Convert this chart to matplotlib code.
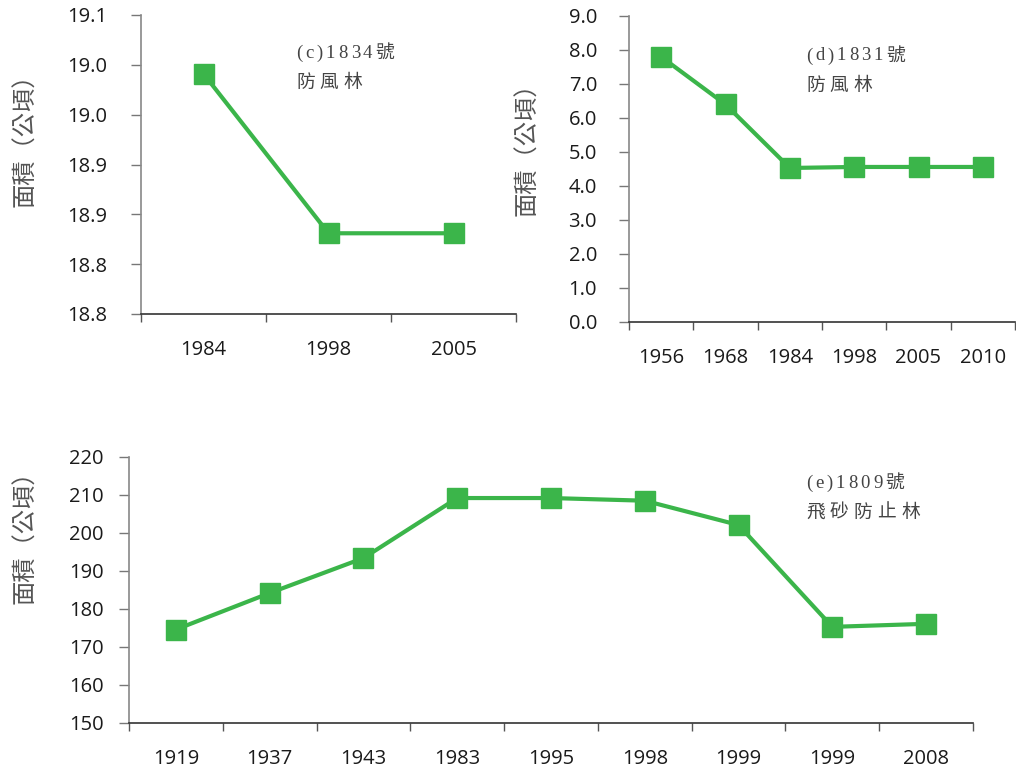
import matplotlib
matplotlib.use('Agg')
import matplotlib.pyplot as plt
from matplotlib.ticker import FixedLocator, NullFormatter

plt.rcParams['font.family'] = ['Open Sans', 'Noto Sans CJK TC', 'DejaVu Sans']

# data
c_years = ['1984', '1998', '2005']
c_area = [19.041, 18.881, 18.881]
c_ticks = [18.80, 18.85, 18.90, 18.95, 19.00, 19.05, 19.10]
c_ticklabels = ['18.8', '18.8', '18.9', '18.9', '19.0', '19.0', '19.1']

d_years = ['1956', '1968', '1984', '1998', '2005', '2010']
d_area = [7.80, 6.40, 4.53, 4.56, 4.56, 4.56]
d_ticks = [0, 1, 2, 3, 4, 5, 6, 7, 8, 9]
d_ticklabels = ['%.1f' % t for t in d_ticks]

e_years = ['1919', '1937', '1943', '1983', '1995', '1998', '1999', '1999', '2008']
e_area = [174.6, 184.2, 193.4, 209.2, 209.2, 208.5, 202.1, 175.3, 176.1]
e_ticks = [150, 160, 170, 180, 190, 200, 210, 220]
e_ticklabels = [str(t) for t in e_ticks]

W, H = 1016, 772
GREEN = '#3bb54a'
fig = plt.figure(figsize=(W / 100, H / 100), dpi=100)
renderer = fig.canvas.get_renderer()


def px_axes(left, top, right, bottom):
    return fig.add_axes([left / W, 1 - bottom / H, (right - left) / W, (bottom - top) / H])


def style(ax, cats, vals, ticks, ticklabels, ypad):
    n = len(cats)
    x = list(range(n))
    ax.plot(x, vals, color=GREEN, lw=3, marker='s', ms=14, mec=GREEN, mfc=GREEN, clip_on=False)
    ax.set_xlim(-0.5, n - 0.5)
    ax.set_ylim(ticks[0], ticks[-1])
    ax.set_yticks(ticks)
    ax.set_yticklabels(ticklabels)
    ax.set_xticks(x)
    ax.set_xticklabels(cats)
    ax.xaxis.set_minor_locator(FixedLocator([i - 0.5 for i in range(n + 1)]))
    ax.xaxis.set_minor_formatter(NullFormatter())
    ax.tick_params(axis='x', which='major', length=0, pad=19, labelsize=14.5, labelcolor='#1a1a1a')
    ax.tick_params(axis='x', which='minor', length=6, width=1, color='#555555', direction='out')
    ax.tick_params(axis='y', length=7, width=1, color='#777777', direction='out', pad=ypad,
                   labelsize=14.5, labelcolor='#1a1a1a')
    for s in ['top', 'right']:
        ax.spines[s].set_visible(False)
    ax.spines['left'].set_color('#888888')
    ax.spines['bottom'].set_color('#333333')
    ax.spines['left'].set_linewidth(1.2)
    ax.spines['bottom'].set_linewidth(1.2)


def ylabel(x, y):
    fig.text(x / W, 1 - y / H, '面積（公頃）', rotation=90, ha='center', va='center',
             fontsize=17.5, color='#555555', family=['Noto Sans CJK TC', 'DejaVu Sans'])


def spaced(x, y, s, gap=4):
    # letter-spaced text, one character at a time (x, y in pixels from top-left)
    for ch in s:
        t = fig.text(x / W, 1 - y / H, ch, ha='left', va='center', fontsize=13.5,
                     color='#444444', family=['Liberation Serif', 'Noto Sans CJK TC'])
        x += t.get_window_extent(renderer).width + gap


def note(x, y, line1, line2):
    spaced(x, y, line1, 3)
    spaced(x, y + 30, line2, 5)


ax_c = px_axes(141, 15, 516, 314)
style(ax_c, c_years, c_area, c_ticks, c_ticklabels, 17)
ylabel(25, 134)
note(296, 53, '(c)1834號', '防風林')

ax_d = px_axes(629, 16, 1015, 322)
style(ax_d, d_years, d_area, d_ticks, d_ticklabels, 16)
ylabel(527, 143)
note(806, 56, '(d)1831號', '防風林')

ax_e = px_axes(129, 457, 973, 723)
style(ax_e, e_years, e_area, e_ticks, e_ticklabels, 11)
ylabel(25, 531)
note(806, 483, '(e)1809號', '飛砂防止林')

fig.savefig('out.png', dpi=100)
